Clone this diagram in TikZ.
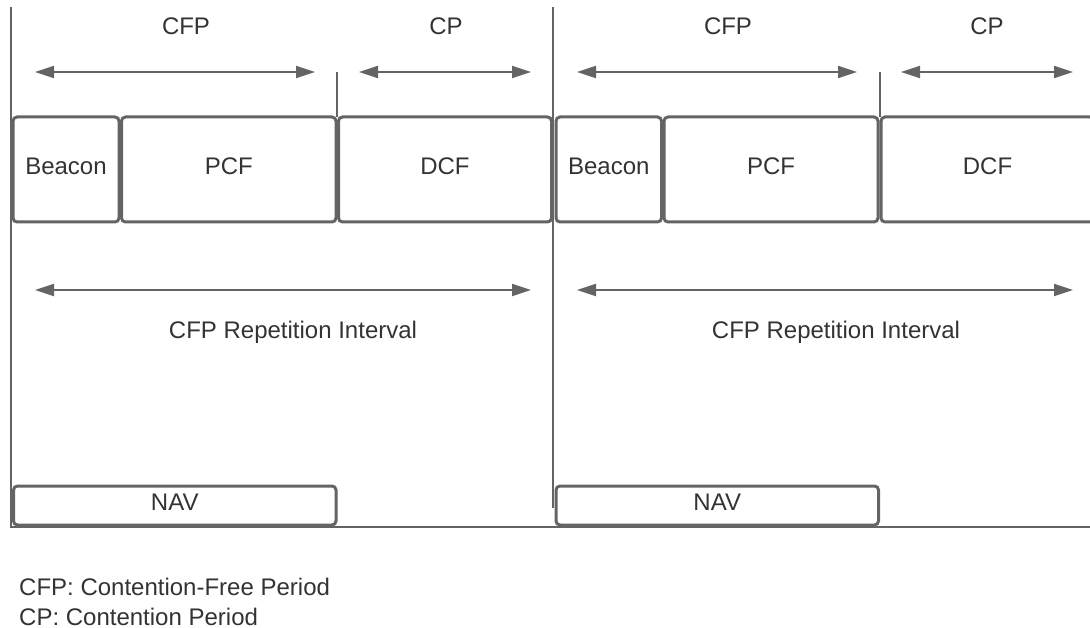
\documentclass[tikz,border=0pt]{standalone}
\usepackage{fontspec}
\setmainfont{Liberation Sans}
\usetikzlibrary{arrows.meta}
\definecolor{linegray}{HTML}{646464}
\definecolor{textgray}{HTML}{333333}
\begin{document}
\begin{tikzpicture}[x=1pt,y=-1pt,
  every node/.style={font=\fontsize{24}{28}\selectfont, text=textgray},
  frame/.style={draw=linegray, line width=3pt, rounded corners=4pt,
    inner sep=0pt, outer sep=0pt, text depth=7pt, minimum height=105pt},
  navframe/.style={frame, minimum height=39pt},
  rule/.style={draw=linegray, line width=2pt},
  span/.style={rule, {Triangle[length=19pt,width=12pt]}-{Triangle[length=19pt,width=12pt]}},
  lbl/.style={inner sep=0pt, anchor=base}]
\useasboundingbox (0,0) rectangle (1090,628);
\begin{scope}
\clip (0,0) rectangle (1090,628);

% time axis and period boundaries
\coordinate (axisTop) at (10.5,7);
\coordinate (axisCorner) at (10.5,526.5);
\coordinate (axisEnd) at (1092,526.5);
\coordinate (midTop) at (553,7);
\coordinate (midBot) at (553,508);
\coordinate (tickA1) at (337,72);
\coordinate (tickA2) at (337,117);
\coordinate (tickB1) at (879.5,72);
\coordinate (tickB2) at (879.5,117);
\draw[rule] (axisTop) -- (axisCorner) -- (axisEnd);
\draw[rule] (midTop) -- (midBot);
\draw[rule] (tickA1) -- (tickA2);
\draw[rule] (tickB1) -- (tickB2);

% frames of the first superframe
\node[frame, minimum width=106pt] (beacon1) at (66,169.5) {Beacon};
\node[frame, minimum width=214.5pt] (pcf1) at (228.75,169.5) {PCF};
\node[frame, minimum width=213pt] (dcf1) at (445,169.5) {DCF};
% frames of the second superframe
\node[frame, minimum width=105.5pt] (beacon2) at (608.75,169.5) {Beacon};
\node[frame, minimum width=214pt] (pcf2) at (771,169.5) {PCF};
\node[frame, minimum width=213pt] (dcf2) at (987.5,169.5) {DCF};

% NAV bars
\node[navframe, minimum width=322.5pt] (nav1) at (174.75,505.5) {NAV};
\node[navframe, minimum width=322.5pt] (nav2) at (717.25,505.5) {NAV};

% period extents
\coordinate (cfpA1) at (35,72);   \coordinate (cfpA2) at (315,72);
\coordinate (cpA1) at (359,72);   \coordinate (cpA2) at (531,72);
\coordinate (cfpB1) at (577,72);  \coordinate (cfpB2) at (857,72);
\coordinate (cpB1) at (901,72);   \coordinate (cpB2) at (1073,72);
\coordinate (repA1) at (35,290);  \coordinate (repA2) at (531,290);
\coordinate (repB1) at (577,290); \coordinate (repB2) at (1073,290);
\draw[span] (cfpA1) -- (cfpA2);
\draw[span] (cpA1) -- (cpA2);
\draw[span] (cfpB1) -- (cfpB2);
\draw[span] (cpB1) -- (cpB2);
\draw[span] (repA1) -- (repA2);
\draw[span] (repB1) -- (repB2);

% period labels
\node[lbl] (lcfpA) at (186,35) {CFP};
\node[lbl] (lcpA) at (446,35) {CP};
\node[lbl] (lcfpB) at (728,35) {CFP};
\node[lbl] (lcpB) at (987,35) {CP};
\node[lbl] (lrepA) at (293,338) {CFP Repetition Interval};
\node[lbl] (lrepB) at (836,338) {CFP Repetition Interval};

% legend
\node[inner sep=0pt, anchor=base west] (legend1) at (19,595.5) {CFP: Contention-Free Period};
\node[inner sep=0pt, anchor=base west] (legend2) at (19,625) {CP: Contention Period};
\end{scope}
\end{tikzpicture}
\end{document}
